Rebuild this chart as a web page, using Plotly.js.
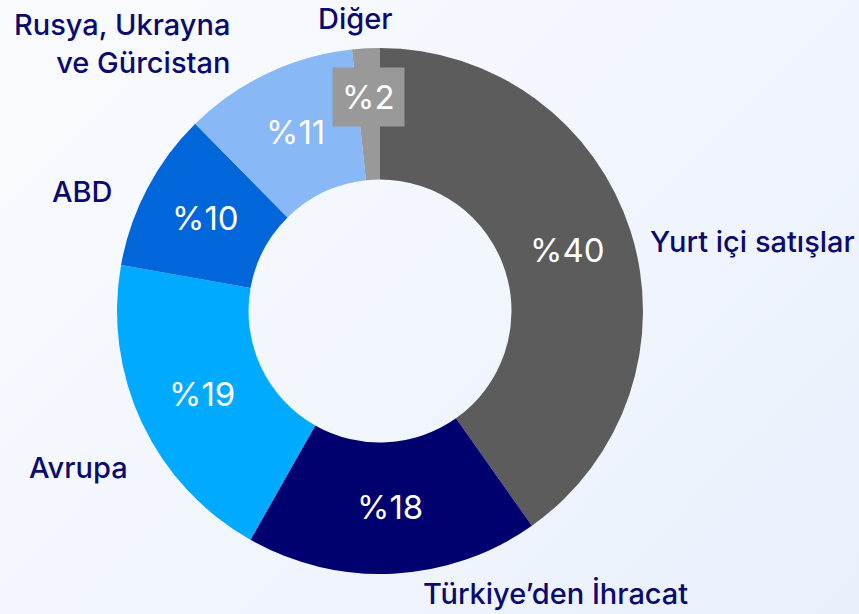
<!DOCTYPE html>
<html>
<head>
<meta charset="utf-8">
<script src="https://cdn.plot.ly/plotly-3.0.1.min.js"></script>
<style>
  html, body { margin: 0; padding: 0; }
  body { width: 859px; height: 614px; background: linear-gradient(135deg, #f9fbfe 0%, #f2f6fd 50%, #e9f0fc 100%); }
  #chart { width: 859px; height: 614px; }
</style>
</head>
<body>
<div id="chart"></div>
<script>
const categories = ["Yurt içi satışlar", "Türkiye’den İhracat", "Avrupa", "ABD", "Rusya, Ukrayna ve Gürcistan", "Diğer"];
const values = [40.2, 18.0, 19.6, 9.8, 10.7, 1.7];
const valueLabels = ["%40", "%18", "%19", "%10", "%11", "%2"];
const sliceColors = ["#5c5c5c", "#00006e", "#00aaff", "#0066d9", "#88b8f6", "#999999"];

const outsideLabels = [
  {text: "Yurt içi satışlar", x: 648, y: 242, xanchor: "left"},
  {text: "Türkiye’den İhracat", x: 421, y: 593, xanchor: "left"},
  {text: "Avrupa", x: 27, y: 467, xanchor: "left"},
  {text: "ABD", x: 82, y: 191, xanchor: "center"},
  {text: "Rusya, Ukrayna<br>ve Gürcistan", x: 232, y: 43, xanchor: "right"},
  {text: "Diğer", x: 355, y: 18, xanchor: "center"}
];

const W = 859, H = 614;
const cx = 380, cy = 311, R = 263, hole = 0.5;
const FONT = "Inter, 'Noto Sans', sans-serif";
const NAVY = "#0b0b6f";

const trace = {
  type: "pie",
  labels: categories,
  values: values,
  hole: hole,
  sort: false,
  direction: "clockwise",
  rotation: 0,
  marker: {colors: sliceColors, line: {width: 0}},
  textinfo: "none",
  hoverinfo: "label+percent",
  showlegend: false,
  domain: {x: [(cx - R) / W, (cx + R) / W], y: [(H - cy - R) / H, (H - cy + R) / H]}
};

const total = values.reduce((a, b) => a + b, 0);
const annotations = [];
let cum = 0;
values.forEach((v, i) => {
  const mid = (cum + v / 2) / total * 2 * Math.PI;
  cum += v;
  const small = v / total < 0.05;
  const r = small ? 213 : (hole * R + R) / 2;
  const px = cx + r * Math.sin(mid);
  const py = cy - r * Math.cos(mid) - 1;
  const ann = {
    xref: "paper", yref: "paper",
    x: px / W, y: (H - py) / H,
    xanchor: "center", yanchor: "middle",
    text: valueLabels[i], showarrow: false,
    font: {family: FONT, size: 33, color: "#ffffff"}
  };
  if (small) {
    ann.bgcolor = sliceColors[i];
    ann.borderpad = 9;
  }
  annotations.push(ann);
});

outsideLabels.forEach(l => {
  annotations.push({
    xref: "paper", yref: "paper",
    x: l.x / W, y: (H - l.y) / H,
    xanchor: l.xanchor, yanchor: "middle",
    align: l.xanchor === "right" ? "right" : "left",
    text: l.text, showarrow: false,
    font: {family: FONT, size: 29, color: NAVY, weight: 500}
  });
});

const layout = {
  width: W, height: H,
  margin: {l: 0, r: 0, t: 0, b: 0},
  paper_bgcolor: "rgba(0,0,0,0)",
  plot_bgcolor: "rgba(0,0,0,0)",
  annotations: annotations,
  font: {family: FONT}
};

Plotly.newPlot("chart", [trace], layout, {displayModeBar: false, staticPlot: true});
</script>
</body>
</html>
